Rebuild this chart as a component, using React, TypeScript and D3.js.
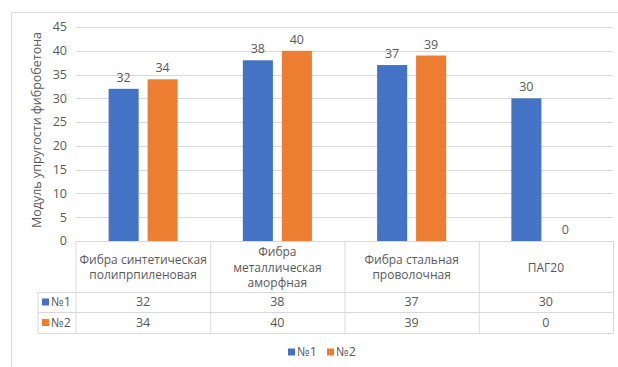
import React from "react";
import * as d3 from "d3";

const categories = [
  ["Фибра синтетическая", "полипрпиленовая"],
  ["Фибра", "металлическая", "аморфная"],
  ["Фибра стальная", "проволочная"],
  ["ПАГ20"],
];
const seriesNames = ["№1", "№2"];
const series1 = [32, 38, 37, 30];
const series2 = [34, 40, 39, 0];
const yTicks = [0, 5, 10, 15, 20, 25, 30, 35, 40, 45];
const yTitle = "Модуль упругости фибробетона";
const colors = ["#4472C4", "#ED7D31"];

const W = 618;
const H = 367;
const FONT = "'Open Sans', sans-serif";
const TXT = "#595959";
const GRID = "#d9d9d9";

export default function App() {
  const values = [series1, series2];
  const plotL = 76, plotR = 613, plotT = 27, plotB = 241;
  const y = d3.scaleLinear().domain([0, 45]).range([plotB, plotT]);
  const x = d3.scaleBand<number>().domain(categories.map((_, i) => i)).range([plotL, plotR]).padding(0);
  const inner = d3.scaleBand<number>().domain([0, 1]).range([0, x.bandwidth()]).paddingInner(0.23).paddingOuter(0.836);
  const headerB = 292, row1B = 312, row2B = 333, tableL = 38;
  const rowMid = [(headerB + row1B) / 2, (row1B + row2B) / 2];

  return (
    <svg width={W} height={H} style={{ position: "absolute", left: 0, top: 0, fontFamily: FONT }}>
      <rect x={0} y={0} width={W} height={H} fill="#fff" />
      {/* chart area border */}
      <path d={`M11.5,${H} V12.5 H${W}`} fill="none" stroke="#d9d9d9" strokeWidth={1} />
      {/* gridlines */}
      {yTicks.map((t) => (
        <line key={t} x1={plotL} x2={plotR} y1={Math.round(y(t)) + 0.5} y2={Math.round(y(t)) + 0.5} stroke={GRID} strokeWidth={1} />
      ))}
      {/* y tick labels */}
      {yTicks.map((t) => (
        <text key={"l" + t} x={67} y={y(t)} dy="0.35em" textAnchor="end" fontSize={12.5} fill={TXT}>{t}</text>
      ))}
      {/* y title */}
      <text transform={`translate(41,${(plotT + plotB) / 2 - 4}) rotate(-90)`} textAnchor="middle" fontSize={12.5} fill={TXT}>{yTitle}</text>
      {/* bars */}
      {values.map((vals, s) =>
        vals.map((v, i) => {
          const bx = (x(i) as number) + (inner(s) as number);
          return (
            <g key={s + "-" + i}>
              {v > 0 && <rect x={bx} y={y(v)} width={inner.bandwidth()} height={y(0) - y(v)} fill={colors[s]} />}
              <text x={bx + inner.bandwidth() / 2} y={y(v) - 7} textAnchor="middle" fontSize={12.5} fill={TXT}>{v}</text>
            </g>
          );
        })
      )}
      {/* data table lines */}
      <line x1={plotL} x2={plotL} y1={plotB} y2={row2B} stroke={GRID} />
      {categories.map((_, i) => (
        <line key={"v" + i} x1={(x(i) as number) + x.bandwidth() + 0.5} x2={(x(i) as number) + x.bandwidth() + 0.5} y1={plotB} y2={row2B} stroke={GRID} />
      ))}
      <line x1={tableL} x2={tableL} y1={headerB} y2={row2B} stroke={GRID} />
      <line x1={plotL} x2={plotR} y1={plotB + 0.5} y2={plotB + 0.5} stroke={GRID} />
      {[headerB, row1B, row2B].map((yy) => (
        <line key={"h" + yy} x1={tableL} x2={plotR + 0.5} y1={yy + 0.5} y2={yy + 0.5} stroke={GRID} />
      ))}
      {/* header labels */}
      {categories.map((lines, i) => {
        const cx = (x(i) as number) + x.bandwidth() / 2;
        const mid = (plotB + headerB) / 2 + 1;
        const lh = 15.5;
        return (
          <text key={"c" + i} textAnchor="middle" fontSize={12} fill={TXT}>
            {lines.map((ln, k) => (
              <tspan key={k} x={cx} y={mid + (k - (lines.length - 1) / 2) * lh} dy="0.35em">{ln}</tspan>
            ))}
          </text>
        );
      })}
      {/* rows */}
      {values.map((vals, s) => (
        <g key={"r" + s}>
          <rect x={42} y={rowMid[s] - 3.5} width={7} height={7} fill={colors[s]} />
          <text x={51} y={rowMid[s]} dy="0.35em" fontSize={12.5} fill={TXT}>{seriesNames[s]}</text>
          {vals.map((v, i) => (
            <text key={i} x={(x(i) as number) + x.bandwidth() / 2} y={rowMid[s]} dy="0.35em" textAnchor="middle" fontSize={12.5} fill={TXT}>{v}</text>
          ))}
        </g>
      ))}
      {/* legend */}
      {seriesNames.map((n, s) => (
        <g key={"lg" + s} transform={`translate(${288 + s * 39},352)`}>
          <rect x={0} y={-3.5} width={7} height={7} fill={colors[s]} />
          <text x={9} y={0} dy="0.35em" fontSize={12.5} fill={TXT}>{n}</text>
        </g>
      ))}
    </svg>
  );
}
